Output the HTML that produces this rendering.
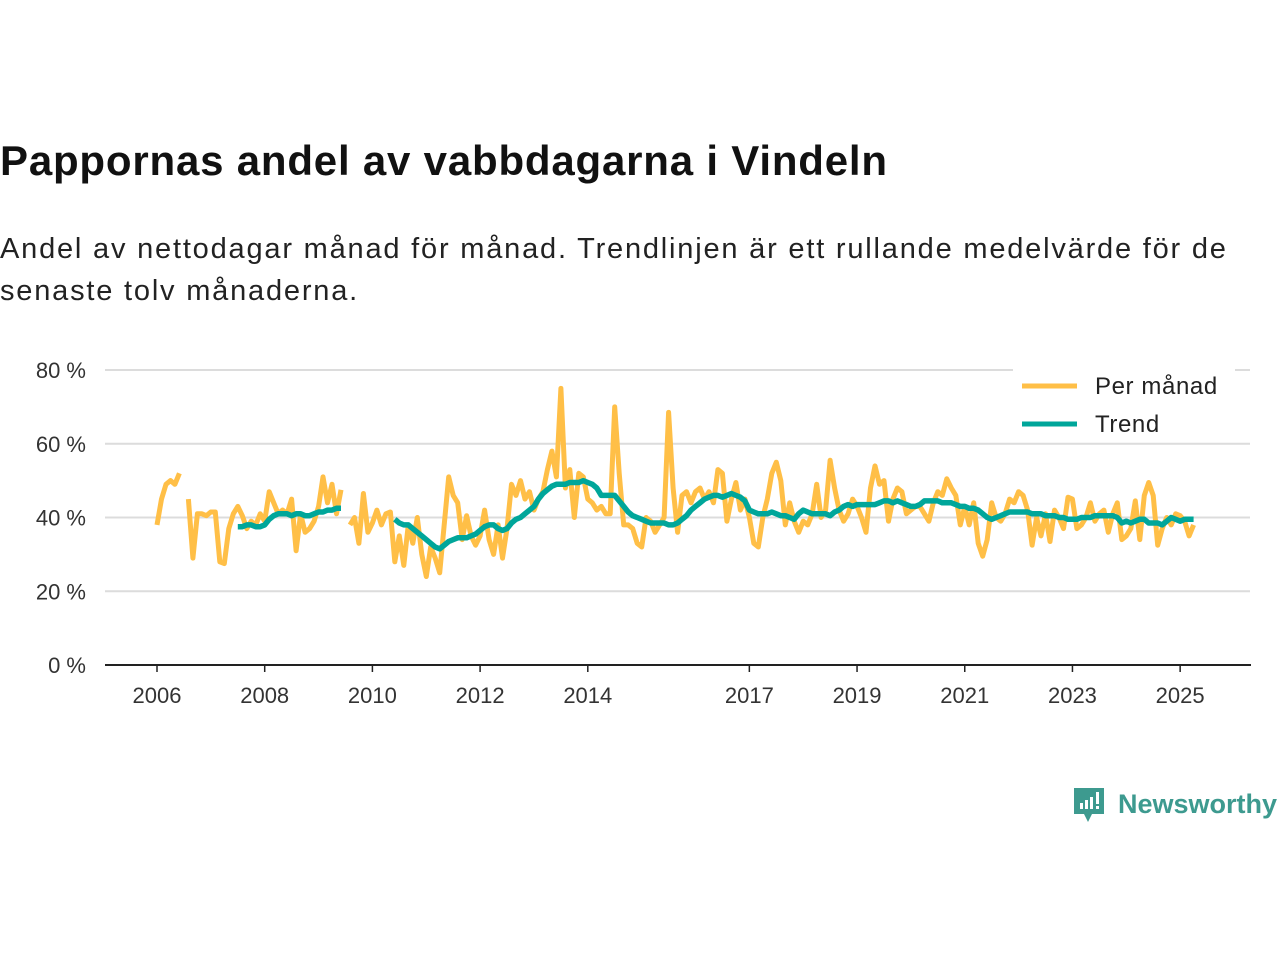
<!DOCTYPE html>
<html><head><meta charset="utf-8">
<style>
body{margin:0;width:1280px;height:960px;background:#fff;font-family:"Liberation Sans",sans-serif;overflow:hidden;position:relative}
#title{position:absolute;left:0;top:137px;font-size:42px;font-weight:bold;color:#111;margin:0;letter-spacing:0.8px}
#sub{position:absolute;left:0;top:228px;font-size:29px;color:#222;line-height:42px;width:1260px;letter-spacing:1.8px}
#logo{position:absolute;left:1072px;top:786px}
</style></head><body>
<h1 id="title">Pappornas andel av vabbdagarna i Vindeln</h1>
<div id="sub">Andel av nettodagar månad för månad. Trendlinjen är ett rullande medelvärde för de senaste tolv månaderna.</div>
<svg id="chart" width="1280" height="760" style="position:absolute;left:0;top:0"></svg>
<div id="logo">
<svg width="210" height="44"><path d="M2 2h30v26h-12l-4 8-4-8h-10z" fill="#3d9a8f"/><rect x="8" y="17" width="3" height="6" fill="#fff"/><rect x="13" y="14" width="3" height="9" fill="#fff"/><rect x="18" y="11" width="3" height="12" fill="#fff"/><rect x="24" y="6" width="3" height="12" fill="#fff"/><rect x="24" y="20" width="3" height="3" fill="#fff"/>
<text x="46" y="27" font-family="Liberation Sans,sans-serif" font-size="27" font-weight="bold" fill="#3d9a8f">Newsworthy</text></svg></div>
<script>
const yTicks=[0,20,40,60,80];
const xTickYears=[2006,2008,2010,2012,2014,2017,2019,2021,2023,2025];
const monthly=[38,45,49,50,49,52,null,45,29,41,41,40.5,
41.5,41.5,28,27.5,37,41,43,40.5,37,39,38,41,
39,47,44,41,42,41,45,31,41,36,37,39,
43,51,44,49,41,47.5,null,38,40,33,46.5,36,
38.5,42,38,41,41.5,28,35,27,38,33,40,30,
24,32,29,25,38,51,46,44,34,40.5,35,32.5,
35,42,34,30,38,29,37,49,46,50,45,47,
42,45,47,53,58,51,75,48,53,40,52,51,
45,44,42,43,41,41,70,52,38,38,37,33,
32,40,39,36,38,40,68.5,48,36,46,47,44,
47,48,45,47,44,53,52,39,45,49.5,42,45,
40,33,32,40,45,52,55,50,38,44,39,36,
39,38,41,49,40,42,55.5,48,42,39,41,45,
43,40,36,48,54,49,50,39,45,48,47,41,
42,43,43,41,39,44,47,46,50.5,48,46,38,
43,38,44,33,29.5,34,44,40,39,41,45,44,
47,46,42,32.5,40,35,41,33.5,42,40,37,45.5,
45,37,38,40,44,39,41,42,36,41,44,34,
35,37,44.5,34,46,49.5,46,32.5,37,40,38,41,
40.5,39,35,38];
const trend=[null,null,null,null,null,null,null,null,null,null,null,null,
null,null,null,null,null,null,37.5,37.5,38,38,37.5,37.5,
38,39.5,40.5,41,41,41,40.5,41,41,40.5,40.5,41,
41.5,41.5,42,42,42.5,42.5,null,null,null,null,null,null,
null,null,null,null,null,39.5,38.5,38,38,37,36,35,
34,33,32,31.5,32.5,33.5,34,34.5,34.5,34.5,35,35.5,
36.5,37.5,38,38,37,36.5,37,38.5,39.5,40,41,42,
43,45,46.5,47.5,48.5,49,49,49,49.5,49.5,49.5,50,
49.5,49,48,46,46,46,46,44.5,43,41.5,40.5,40,
39.5,39,38.5,38.5,38.5,38.5,38,38,38.5,39.5,40.5,42,
43,44,45,45.5,46,46,45.5,46,46.5,46,45.5,44.5,
42,41.5,41,41,41,41.5,41,40.5,40.5,40,39.5,41,
42,41.5,41,41,41,41,40.5,41.5,42,43,43.5,43,
43.5,43.5,43.5,43.5,43.5,44,44.5,44.5,44,44.5,44,43.5,
43,43,43.5,44.5,44.5,44.5,44.5,44,44,44,43.5,43,
43,42.5,42.5,42,41,40,39.5,40,40.5,41,41.5,41.5,
41.5,41.5,41.5,41,41,41,40.5,40.5,40.5,40,40,39.5,
39.5,39.5,40,40,40,40.5,40.5,40.5,40.5,40.5,40,38.5,
39,38.5,39,39.5,39.5,38.5,38.5,38.5,38,39,40,39.5,
39,39.5,39.5,39.5];
const svg=document.getElementById('chart');
const NS='http://www.w3.org/2000/svg';
const X0=157,PXY=53.85;
function xYear(y){return X0+(y-2006)*PXY;}
function xIdx(i){return X0+i*PXY/12;}
function yVal(v){return 665-v*3.6875;}
function mk(t,a,p){const e=document.createElementNS(NS,t);for(const k in a)e.setAttribute(k,a[k]);(p||svg).appendChild(e);return e;}
yTicks.forEach(v=>{
 if(v>0){const g=mk('line',{x1:105,x2:1250,y1:yVal(v),y2:yVal(v),stroke:'#dcdcdc','stroke-width':2});
 
 }
 const t=mk('text',{x:86,y:yVal(v)+8,'text-anchor':'end','font-size':22,fill:'#333'});t.textContent=v+' %';
 
 
});
const ax=mk('line',{x1:105,x2:1251,y1:665,y2:665,stroke:'#222','stroke-width':2});


xTickYears.forEach(y=>{
 const x=xYear(y);
 const tk=mk('line',{x1:x,x2:x,y1:665,y2:672,stroke:'#222','stroke-width':1.5});
 
 
 const t=mk('text',{x:x,y:703,'text-anchor':'middle','font-size':22,fill:'#333'});t.textContent=y;
 
 
});
function pathOf(arr){let d='',pen=false;arr.forEach((v,i)=>{if(v==null){pen=false;return;}d+=(pen?'L':'M')+xIdx(i).toFixed(1)+' '+yVal(v).toFixed(1);pen=true;});return d;}
const pm=mk('path',{d:pathOf(monthly),fill:'none',stroke:'#ffbf47','stroke-width':5,'stroke-linejoin':'round'});


const pt=mk('path',{d:pathOf(trend),fill:'none',stroke:'#00a69a','stroke-width':5.5,'stroke-linejoin':'round'});


const lg=mk('g',{});


mk('rect',{x:1013,y:364,width:222,height:78,fill:'#fff'},lg);
[['Per månad','#ffbf47',386],['Trend','#00a69a',424]].forEach(([n,c,y])=>{
 const e=mk('g',{},lg);
 
 
 mk('line',{x1:1022,x2:1077,y1:y,y2:y,stroke:c,'stroke-width':5},e);
 const t=mk('text',{x:1095,y:y+8,'font-size':24,fill:'#222','letter-spacing':0.6},e);t.textContent=n;
});
</script>
</body></html>
